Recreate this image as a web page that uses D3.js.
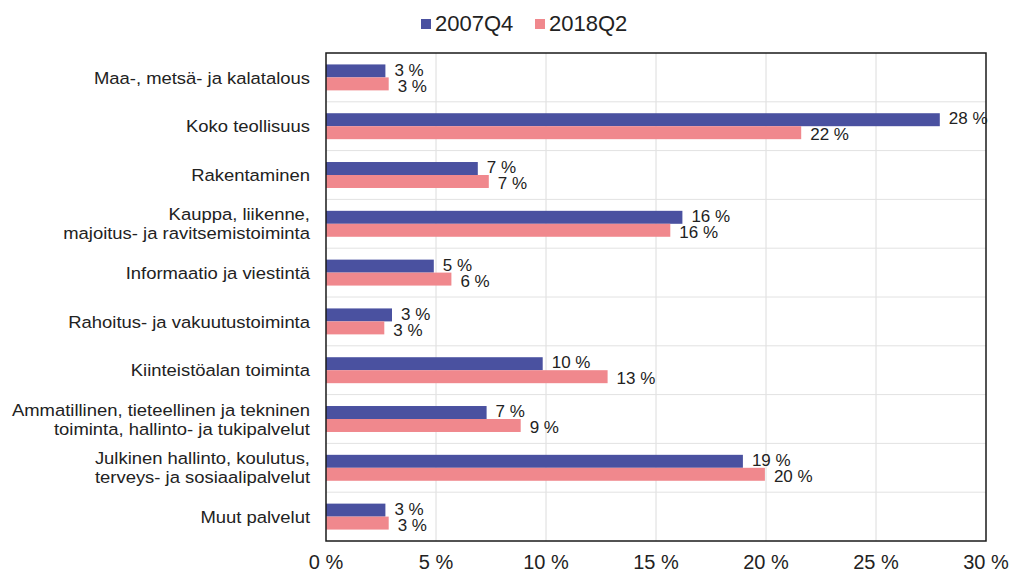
<!DOCTYPE html>
<html><head><meta charset="utf-8">
<script src="https://cdn.jsdelivr.net/npm/d3@7"></script>
<style>
body{margin:0;background:#fff;}
svg{display:block;font-family:"Liberation Sans",Arial,sans-serif;}
</style></head>
<body><svg id="c" width="1012" height="573"></svg>
<script>
const categories = [
  ["Maa-, metsä- ja kalatalous"],
  ["Koko teollisuus"],
  ["Rakentaminen"],
  ["Kauppa, liikenne,", "majoitus- ja ravitsemistoiminta"],
  ["Informaatio ja viestintä"],
  ["Rahoitus- ja vakuutustoiminta"],
  ["Kiinteistöalan toiminta"],
  ["Ammatillinen, tieteellinen ja tekninen", "toiminta, hallinto- ja tukipalvelut"],
  ["Julkinen hallinto, koulutus,", "terveys- ja sosiaalipalvelut"],
  ["Muut palvelut"]
];
const seriesNames = ["2007Q4", "2018Q2"];
const values2007Q4 = [2.7, 27.9, 6.9, 16.2, 4.9, 3.0, 9.85, 7.3, 18.95, 2.7];
const values2018Q2 = [2.85, 21.6, 7.4, 15.65, 5.7, 2.65, 12.8, 8.85, 19.95, 2.85];
const xTicks = [0, 5, 10, 15, 20, 25, 30];
const colors = ["#4a51a0", "#f0888d"];

const svg = d3.select("#c");
const L = 326, R = 986, T = 53, B = 541;
const x = d3.scaleLinear().domain([0, 30]).range([L, R]);
const keys = categories.map((c, i) => i);
const y = d3.scaleBand().domain(keys).range([T, B]).padding(0);
const y1 = d3.scaleBand().domain(seriesNames).range([0, y.bandwidth()]).paddingInner(0).paddingOuter(0.88);
const series = [values2007Q4, values2018Q2];
const labelShift = [-1.5, 1.5];

// grid
svg.append("g").selectAll("line").data(xTicks.slice(1, -1)).join("line")
  .attr("x1", d => x(d)).attr("x2", d => x(d)).attr("y1", T).attr("y2", B)
  .attr("stroke", "#dcdcdc").attr("stroke-width", 1);
svg.append("g").selectAll("line").data(keys.slice(1)).join("line")
  .attr("x1", L).attr("x2", R).attr("y1", d => y(d)).attr("y2", d => y(d))
  .attr("stroke", "#e2e2e2").attr("stroke-width", 1);

// bars
series.forEach((vals, si) => {
  const g = svg.append("g");
  g.selectAll("rect").data(vals).join("rect")
    .attr("x", x(0)).attr("y", (d, i) => y(i) + y1(seriesNames[si]))
    .attr("width", d => x(d) - x(0)).attr("height", y1.bandwidth())
    .attr("fill", colors[si]);
  g.selectAll("text").data(vals).join("text")
    .attr("x", d => x(d) + 9)
    .attr("y", (d, i) => y(i) + y1(seriesNames[si]) + y1.bandwidth() / 2 + labelShift[si])
    .attr("dy", "0.36em").attr("font-size", 17).attr("fill", "#222")
    .text(d => Math.round(d) + " %");
});

// frame
svg.append("rect").attr("x", L).attr("y", T).attr("width", R - L).attr("height", B - T)
  .attr("fill", "none").attr("stroke", "#1a1a1a").attr("stroke-width", 1.5);

// category labels (source text is horizontally stretched)
const cg = svg.append("g").selectAll("g").data(categories).join("g")
  .attr("transform", (d, i) => `translate(310,${y(i) + y.bandwidth() / 2}) scale(1.085,1)`);
cg.each(function(lines) {
  const n = lines.length;
  d3.select(this).selectAll("text").data(lines).join("text")
    .attr("text-anchor", "end").attr("font-size", 17).attr("fill", "#222")
    .attr("x", 0).attr("y", (d, j) => (j - (n - 1) / 2) * 19)
    .attr("dy", "0.36em").text(d => d);
});

// x axis labels
svg.append("g").selectAll("text").data(xTicks).join("text")
  .attr("x", d => x(d)).attr("y", 562).attr("dy", "0.36em")
  .attr("text-anchor", "middle").attr("font-size", 20).attr("fill", "#222")
  .text(d => d + " %");

// legend
const legX = [421, 535];
const lg = svg.append("g").selectAll("g").data(seriesNames).join("g");
lg.append("rect").attr("x", (d, i) => legX[i]).attr("y", 19).attr("width", 10).attr("height", 10)
  .attr("fill", (d, i) => colors[i]);
lg.append("text").attr("x", (d, i) => legX[i] + 14).attr("y", 31)
  .attr("font-size", 22).attr("fill", "#222").text(d => d);
</script></body></html>
